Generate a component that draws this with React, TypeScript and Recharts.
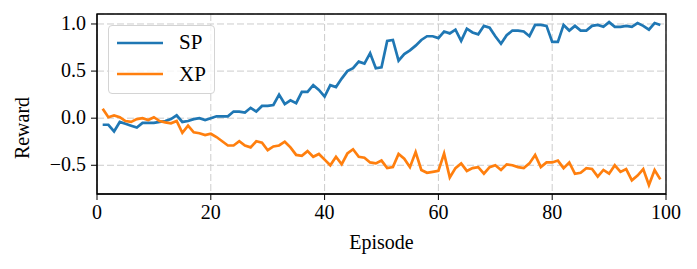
import { LineChart, Line, XAxis, YAxis, CartesianGrid, ReferenceArea } from 'recharts';

const EPISODES = [
  1, 2, 3, 4, 5, 6, 7, 8, 9, 10, 11, 12, 13, 14, 15, 16, 17, 18, 19, 20,
  21, 22, 23, 24, 25, 26, 27, 28, 29, 30, 31, 32, 33, 34, 35, 36, 37, 38, 39, 40,
  41, 42, 43, 44, 45, 46, 47, 48, 49, 50, 51, 52, 53, 54, 55, 56, 57, 58, 59, 60,
  61, 62, 63, 64, 65, 66, 67, 68, 69, 70, 71, 72, 73, 74, 75, 76, 77, 78, 79, 80,
  81, 82, 83, 84, 85, 86, 87, 88, 89, 90, 91, 92, 93, 94, 95, 96, 97, 98, 99,
];

const SP = [
  -0.07, -0.07, -0.14, -0.04, -0.06, -0.08, -0.1, -0.05, -0.05, -0.05,
  -0.04, -0.03, -0.01, 0.03, -0.04, -0.03, -0.01, 0.0, -0.02, 0.0,
  0.02, 0.02, 0.02, 0.07, 0.07, 0.06, 0.11, 0.07, 0.13, 0.13,
  0.14, 0.25, 0.15, 0.19, 0.16, 0.28, 0.28, 0.35, 0.3, 0.23,
  0.35, 0.33, 0.42, 0.5, 0.53, 0.6, 0.58, 0.69, 0.53, 0.54,
  0.82, 0.83, 0.61, 0.68, 0.72, 0.77, 0.83, 0.87, 0.87, 0.85,
  0.92, 0.9, 0.94, 0.82, 0.95, 0.91, 0.89, 0.98, 0.96, 0.87,
  0.79, 0.88, 0.93, 0.93, 0.92, 0.87, 0.99, 0.99, 0.98, 0.81,
  0.81, 0.99, 0.93, 0.98, 0.93, 0.93, 0.98, 0.99, 0.97, 1.02,
  0.97, 0.97, 0.98, 0.97, 1.01, 0.98, 0.94, 1.01, 0.99,
];

const XP = [
  0.1, 0.01, 0.03, 0.01, -0.03, -0.04, -0.01, 0.0, -0.02, 0.01,
  -0.03, -0.045, -0.055, -0.03, -0.155, -0.08, -0.15, -0.16, -0.18, -0.165,
  -0.2, -0.245, -0.29, -0.29, -0.245, -0.29, -0.31, -0.245, -0.26, -0.34,
  -0.3, -0.29, -0.25, -0.31, -0.39, -0.4, -0.35, -0.41, -0.38, -0.44,
  -0.5, -0.41, -0.49, -0.375, -0.33, -0.41, -0.42, -0.47, -0.48, -0.45,
  -0.53, -0.52, -0.38, -0.43, -0.52, -0.36, -0.55, -0.58, -0.57, -0.56,
  -0.375, -0.63, -0.53, -0.48, -0.56, -0.53, -0.52, -0.59, -0.52, -0.5,
  -0.55, -0.49, -0.5, -0.52, -0.53, -0.48, -0.39, -0.52, -0.47, -0.47,
  -0.45, -0.53, -0.47, -0.59, -0.58, -0.53, -0.54, -0.62, -0.55, -0.59,
  -0.5, -0.57, -0.54, -0.66, -0.61, -0.54, -0.71, -0.55, -0.65,
];

const X_TICKS = [0, 20, 40, 60, 80, 100];
const Y_TICKS = [-0.5, 0, 0.5, 1.0];
const X_DOMAIN = [0, 100];
const Y_DOMAIN = [-0.805, 1.106];

const SERIES = [
  { key: 'SP', color: '#1f77b4' },
  { key: 'XP', color: '#ff7f0e' },
];

const FONT = '"Liberation Serif", "DejaVu Serif", serif';

const data = EPISODES.map((ep, i) => ({ episode: ep, SP: SP[i], XP: XP[i] }));

const fmtY = (v: number) => v.toFixed(1).replace('-', '\u2212');

// ticks drawn by hand so the serif font actually sticks
function XTick({ x, y, payload }: any) {
  return (
    <text x={x} y={y} dy={15} textAnchor="middle" fill="#000" fontSize={20} fontFamily={FONT}>
      {payload.value}
    </text>
  );
}

function YTick({ x, y, payload }: any) {
  return (
    <text x={x} y={y} dy={6} textAnchor="end" fill="#000" fontSize={20} fontFamily={FONT}>
      {fmtY(payload.value)}
    </text>
  );
}

// matplotlib-style legend box, sits over the top-left of the plot
function LegendBox() {
  return (
    <div
      style={{
        position: 'absolute',
        left: 100,
        top: 17,
        width: 107,
        height: 69,
        border: '1px solid #d4d4d4',
        borderRadius: 4,
        background: 'rgba(255,255,255,0.8)',
        fontFamily: FONT,
        fontSize: 21,
        boxSizing: 'border-box',
        paddingTop: 1,
      }}
    >
      {SERIES.map(s => (
        <div key={s.key} style={{ display: 'flex', alignItems: 'center', height: 31.5 }}>
          <svg width={62} height={10} style={{ marginLeft: 8 }}>
            <line x1={0} x2={46} y1={5} y2={5} stroke={s.color} strokeWidth={2.6} />
          </svg>
          <span style={{ color: '#000', lineHeight: 1 }}>{s.key}</span>
        </div>
      ))}
    </div>
  );
}

export default function App() {
  return (
    <div style={{ position: 'relative', width: 681, height: 253 }}>
      <LineChart
        width={681}
        height={253}
        data={data}
        margin={{ top: 6, right: 23, left: 0, bottom: 0 }}
        style={{ fontFamily: FONT }}
      >
        <CartesianGrid stroke="#cccccc" strokeDasharray="7 3" strokeWidth={1} />
        <XAxis
          dataKey="episode"
          type="number"
          domain={X_DOMAIN}
          ticks={X_TICKS}
          height={67}
          tickSize={6}
          tickMargin={4}
          stroke="#000"
          tick={<XTick />}
          label={{ value: 'Episode', position: 'insideBottom', offset: 12, fill: '#000', fontSize: 20, fontFamily: FONT }}
        />
        <YAxis
          type="number"
          domain={Y_DOMAIN}
          ticks={Y_TICKS}
          width={89}
          tickSize={6}
          tickMargin={5}
          stroke="#000"
          tick={<YTick />}
          label={{ value: 'Reward', angle: -90, position: 'insideLeft', offset: 14, dy: 24, fill: '#000', fontSize: 20, fontFamily: FONT, style: { textAnchor: 'middle' } }}
        />
        <ReferenceArea
          x1={X_DOMAIN[0]}
          x2={X_DOMAIN[1]}
          y1={Y_DOMAIN[0]}
          y2={Y_DOMAIN[1]}
          fill="none"
          stroke="#000"
          strokeWidth={1.3}
        />
        {SERIES.map(s => (
          <Line
            key={s.key}
            dataKey={s.key}
            type="linear"
            stroke={s.color}
            strokeWidth={2.7}
            dot={false}
            isAnimationActive={false}
          />
        ))}
      </LineChart>
      <LegendBox />
    </div>
  );
}
